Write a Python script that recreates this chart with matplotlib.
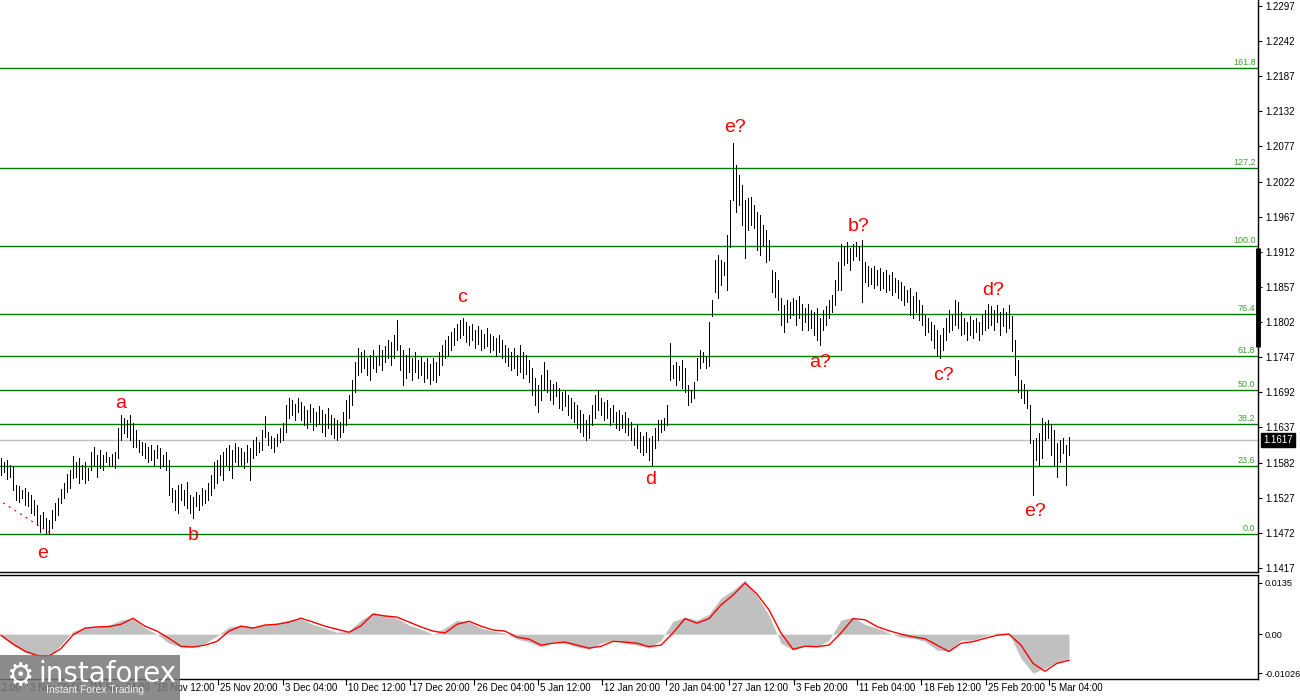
import numpy as np
import matplotlib.pyplot as plt
from matplotlib.transforms import blended_transform_factory
from matplotlib.patches import Rectangle

# --- datos (barras H4, maximos y minimos) ---
HIGHS = [
    1.1589, 1.1583, 1.1586, 1.1578, 1.1577, 1.1547, 1.1545, 1.1539, 1.1542, 1.1536,
    1.1531, 1.1523, 1.1516, 1.1500, 1.1505, 1.1495, 1.1492, 1.1508, 1.1519, 1.1527,
    1.1541, 1.1550, 1.1564, 1.1570, 1.1592, 1.1583, 1.1589, 1.1578, 1.1583, 1.1573,
    1.1599, 1.1606, 1.1594, 1.1602, 1.1594, 1.1599, 1.1591, 1.1596, 1.1599, 1.1636,
    1.1656, 1.1652, 1.1649, 1.1656, 1.1644, 1.1633, 1.1617, 1.1614, 1.1613, 1.1606,
    1.1609, 1.1602, 1.1609, 1.1605, 1.1594, 1.1599, 1.1586, 1.1542, 1.1539, 1.1547,
    1.1548, 1.1539, 1.1551, 1.1531, 1.1528, 1.1536, 1.1531, 1.1542, 1.1539, 1.1550,
    1.1562, 1.1583, 1.1586, 1.1594, 1.1599, 1.1605, 1.1609, 1.1602, 1.1613, 1.1606,
    1.1605, 1.1599, 1.1609, 1.1605, 1.1617, 1.1622, 1.1614, 1.1633, 1.1655, 1.1630,
    1.1623, 1.1620, 1.1627, 1.1636, 1.1644, 1.1672, 1.1683, 1.1680, 1.1674, 1.1683,
    1.1677, 1.1671, 1.1664, 1.1674, 1.1667, 1.1661, 1.1671, 1.1664, 1.1658, 1.1667,
    1.1656, 1.1652, 1.1649, 1.1645, 1.1661, 1.1680, 1.1688, 1.1711, 1.1739, 1.1761,
    1.1755, 1.1758, 1.1745, 1.1750, 1.1758, 1.1748, 1.1766, 1.1758, 1.1764, 1.1774,
    1.1771, 1.1782, 1.1805, 1.1766, 1.1758, 1.1750, 1.1761, 1.1745, 1.1755, 1.1743,
    1.1748, 1.1739, 1.1745, 1.1736, 1.1745, 1.1739, 1.1755, 1.1766, 1.1774, 1.1780,
    1.1786, 1.1793, 1.1799, 1.1805, 1.1808, 1.1802, 1.1796, 1.1799, 1.1790, 1.1796,
    1.1790, 1.1783, 1.1793, 1.1783, 1.1780, 1.1777, 1.1782, 1.1774, 1.1766, 1.1761,
    1.1755, 1.1761, 1.1750, 1.1766, 1.1755, 1.1750, 1.1743, 1.1730, 1.1714, 1.1703,
    1.1719, 1.1739, 1.1727, 1.1711, 1.1705, 1.1708, 1.1699, 1.1692, 1.1696, 1.1688,
    1.1683, 1.1677, 1.1672, 1.1664, 1.1658, 1.1649, 1.1656, 1.1672, 1.1688, 1.1696,
    1.1683, 1.1677, 1.1680, 1.1667, 1.1672, 1.1661, 1.1664, 1.1656, 1.1661, 1.1652,
    1.1645, 1.1636, 1.1641, 1.1630, 1.1624, 1.1630, 1.1620, 1.1624, 1.1636, 1.1649,
    1.1649, 1.1652, 1.1672, 1.1769, 1.1735, 1.1740, 1.1733, 1.1743, 1.1730, 1.1703,
    1.1696, 1.1708, 1.1745, 1.1758, 1.1755, 1.1749, 1.1802, 1.1837, 1.1899, 1.1907,
    1.1899, 1.1896, 1.1938, 1.1993, 1.2082, 1.2048, 1.2032, 1.2017, 1.1993, 1.1996,
    1.1998, 1.1985, 1.1974, 1.1970, 1.1954, 1.1946, 1.1931, 1.1884, 1.1880, 1.1868,
    1.1839, 1.1829, 1.1837, 1.1833, 1.1840, 1.1837, 1.1843, 1.1830, 1.1824, 1.1830,
    1.1821, 1.1818, 1.1824, 1.1808, 1.1821, 1.1827, 1.1837, 1.1844, 1.1868, 1.1896,
    1.1924, 1.1921, 1.1927, 1.1918, 1.1924, 1.1927, 1.1921, 1.1931, 1.1896, 1.1890,
    1.1887, 1.1890, 1.1884, 1.1887, 1.1880, 1.1884, 1.1876, 1.1880, 1.1871, 1.1868,
    1.1865, 1.1858, 1.1852, 1.1855, 1.1843, 1.1849, 1.1837, 1.1829, 1.1813, 1.1808,
    1.1802, 1.1797, 1.1790, 1.1782, 1.1793, 1.1808, 1.1821, 1.1813, 1.1837, 1.1833,
    1.1818, 1.1808, 1.1802, 1.1811, 1.1805, 1.1808, 1.1802, 1.1813, 1.1821, 1.1830,
    1.1827, 1.1821, 1.1829, 1.1818, 1.1824, 1.1818, 1.1829, 1.1811, 1.1774, 1.1743,
    1.1711, 1.1705, 1.1696, 1.1672, 1.1617, 1.1620, 1.1628, 1.1652, 1.1645, 1.1649,
    1.1642, 1.1633, 1.1613, 1.1617, 1.1620, 1.1609, 1.1622,
]
LOWS = [
    1.1562, 1.1567, 1.1556, 1.1559, 1.1539, 1.1523, 1.1520, 1.1527, 1.1516, 1.1514,
    1.1503, 1.1500, 1.1484, 1.1473, 1.1479, 1.1471, 1.1470, 1.1479, 1.1492, 1.1500,
    1.1519, 1.1527, 1.1536, 1.1542, 1.1558, 1.1559, 1.1550, 1.1556, 1.1550, 1.1555,
    1.1570, 1.1578, 1.1559, 1.1573, 1.1570, 1.1583, 1.1578, 1.1577, 1.1573, 1.1589,
    1.1617, 1.1628, 1.1622, 1.1617, 1.1606, 1.1606, 1.1599, 1.1594, 1.1589, 1.1583,
    1.1586, 1.1578, 1.1589, 1.1573, 1.1577, 1.1570, 1.1531, 1.1520, 1.1508, 1.1503,
    1.1523, 1.1516, 1.1511, 1.1503, 1.1495, 1.1514, 1.1508, 1.1516, 1.1519, 1.1523,
    1.1531, 1.1542, 1.1550, 1.1562, 1.1555, 1.1578, 1.1570, 1.1558, 1.1583, 1.1577,
    1.1578, 1.1573, 1.1583, 1.1555, 1.1589, 1.1594, 1.1599, 1.1602, 1.1622, 1.1609,
    1.1605, 1.1599, 1.1608, 1.1614, 1.1617, 1.1630, 1.1652, 1.1656, 1.1649, 1.1661,
    1.1649, 1.1641, 1.1636, 1.1645, 1.1633, 1.1639, 1.1642, 1.1630, 1.1623, 1.1636,
    1.1627, 1.1620, 1.1617, 1.1622, 1.1630, 1.1641, 1.1652, 1.1672, 1.1692, 1.1719,
    1.1724, 1.1730, 1.1719, 1.1711, 1.1730, 1.1724, 1.1735, 1.1727, 1.1739, 1.1745,
    1.1735, 1.1745, 1.1758, 1.1727, 1.1703, 1.1714, 1.1724, 1.1711, 1.1724, 1.1714,
    1.1719, 1.1708, 1.1714, 1.1705, 1.1711, 1.1708, 1.1719, 1.1735, 1.1745, 1.1750,
    1.1758, 1.1766, 1.1774, 1.1777, 1.1782, 1.1771, 1.1766, 1.1774, 1.1761, 1.1768,
    1.1758, 1.1761, 1.1764, 1.1755, 1.1758, 1.1749, 1.1755, 1.1745, 1.1739, 1.1733,
    1.1727, 1.1730, 1.1719, 1.1724, 1.1714, 1.1721, 1.1708, 1.1688, 1.1672, 1.1661,
    1.1680, 1.1696, 1.1692, 1.1680, 1.1674, 1.1686, 1.1667, 1.1664, 1.1670, 1.1656,
    1.1652, 1.1645, 1.1636, 1.1630, 1.1623, 1.1617, 1.1620, 1.1641, 1.1652, 1.1664,
    1.1656, 1.1649, 1.1652, 1.1641, 1.1645, 1.1636, 1.1633, 1.1636, 1.1630, 1.1625,
    1.1617, 1.1609, 1.1605, 1.1599, 1.1594, 1.1599, 1.1586, 1.1578, 1.1605, 1.1617,
    1.1630, 1.1633, 1.1641, 1.1711, 1.1714, 1.1703, 1.1711, 1.1699, 1.1692, 1.1672,
    1.1677, 1.1683, 1.1711, 1.1730, 1.1739, 1.1730, 1.1733, 1.1811, 1.1849, 1.1840,
    1.1860, 1.1876, 1.1852, 1.1920, 1.1993, 1.1975, 1.1985, 1.1954, 1.1902, 1.1946,
    1.1954, 1.1949, 1.1915, 1.1907, 1.1923, 1.1896, 1.1899, 1.1849, 1.1841, 1.1821,
    1.1797, 1.1786, 1.1802, 1.1808, 1.1813, 1.1797, 1.1808, 1.1790, 1.1802, 1.1790,
    1.1793, 1.1782, 1.1774, 1.1766, 1.1790, 1.1797, 1.1808, 1.1818, 1.1829, 1.1852,
    1.1852, 1.1891, 1.1894, 1.1884, 1.1899, 1.1905, 1.1899, 1.1834, 1.1865, 1.1858,
    1.1862, 1.1855, 1.1860, 1.1852, 1.1855, 1.1849, 1.1852, 1.1844, 1.1849, 1.1840,
    1.1837, 1.1829, 1.1833, 1.1813, 1.1808, 1.1818, 1.1805, 1.1797, 1.1782, 1.1786,
    1.1774, 1.1761, 1.1750, 1.1745, 1.1758, 1.1774, 1.1786, 1.1790, 1.1797, 1.1793,
    1.1782, 1.1783, 1.1774, 1.1782, 1.1777, 1.1786, 1.1774, 1.1783, 1.1790, 1.1793,
    1.1797, 1.1790, 1.1802, 1.1782, 1.1796, 1.1786, 1.1793, 1.1757, 1.1719, 1.1692,
    1.1683, 1.1675, 1.1667, 1.1613, 1.1531, 1.1586, 1.1578, 1.1589, 1.1617, 1.1620,
    1.1594, 1.1578, 1.1559, 1.1583, 1.1597, 1.1547, 1.1594,
]
LAST_PRICE = 1.1617

# niveles de Fibonacci
FIB_LOW = 1.1470
FIB_HIGH = 1.1921
FIB_RATIOS = [1.618, 1.272, 1.0, 0.764, 0.618, 0.5, 0.382, 0.236, 0.0]
FIB_LABELS = ['161.8', '127,2', '100.0', '76.4', '61.8', '50.0', '38.2', '23.6', '0.0']

# etiquetas de ondas
WAVE_TEXT = ['e', 'a', 'b', 'c', 'd', 'e?', 'a?', 'b?', 'c?', 'd?', 'e?']
WAVE_BAR = [13.7, 40, 64, 153.7, 216.7, 244.7, 273, 286, 314, 330.7, 344.7]
WAVE_PRICE = [1.1440, 1.1674, 1.1467, 1.1840, 1.1555, 1.2106, 1.1738, 1.1951,
              1.1719, 1.1852, 1.1505]

# linea de tendencia punteada (roja)
TREND_BARS = [0.7, 16.3]
TREND_PRICES = [1.1519, 1.1472]

# marca gruesa sobre el eje de precios
AXIS_MARK = [1.1918, 1.1763]

# MACD: un valor cada 4 barras
MACD_STEP = 4
MACD_MAIN = [
    -0.0005, -0.0029, -0.0048, -0.0058, -0.0058, -0.0029, 0.0008, 0.0016, 0.0021, 0.0024,
    0.0037, 0.0042, 0.0016, 0.0000, -0.0024, -0.0034, -0.0034, -0.0024, -0.0005, 0.0019,
    0.0024, 0.0019, 0.0026, 0.0029, 0.0037, 0.0040, 0.0026, 0.0016, 0.0005, 0.0008,
    0.0037, 0.0056, 0.0050, 0.0042, 0.0024, 0.0013, 0.0000, 0.0016, 0.0037, 0.0032,
    0.0016, 0.0008, 0.0003, -0.0013, -0.0021, -0.0034, -0.0021, -0.0024, -0.0034, -0.0040,
    -0.0024, -0.0016, -0.0024, -0.0029, -0.0037, -0.0016, 0.0034, 0.0045, 0.0037, 0.0053,
    0.0095, 0.0116, 0.0143, 0.0101, 0.0050, -0.0024, -0.0042, -0.0032, -0.0034, -0.0016,
    0.0037, 0.0045, 0.0026, 0.0016, 0.0003, -0.0008, -0.0011, -0.0019, -0.0042, -0.0045,
    -0.0016, -0.0016, -0.0005, 0.0003, 0.0003, -0.0064, -0.0103, -0.0090, -0.0074, -0.0064,
]
MACD_SIGNAL = [
    -0.0003, -0.0026, -0.0045, -0.0056, -0.0058, -0.0038, -0.0002, 0.0016, 0.0019, 0.0020,
    0.0026, 0.0042, 0.0021, 0.0008, -0.0011, -0.0032, -0.0034, -0.0029, -0.0019, 0.0008,
    0.0021, 0.0016, 0.0024, 0.0026, 0.0032, 0.0042, 0.0032, 0.0021, 0.0013, 0.0005,
    0.0022, 0.0053, 0.0048, 0.0045, 0.0032, 0.0019, 0.0008, 0.0003, 0.0026, 0.0034,
    0.0021, 0.0011, 0.0008, -0.0008, -0.0013, -0.0029, -0.0024, -0.0021, -0.0029, -0.0037,
    -0.0032, -0.0019, -0.0021, -0.0024, -0.0033, -0.0029, 0.0003, 0.0041, 0.0029, 0.0041,
    0.0077, 0.0103, 0.0135, 0.0106, 0.0064, 0.0003, -0.0040, -0.0032, -0.0033, -0.0029,
    0.0003, 0.0041, 0.0038, 0.0020, 0.0009, 0.0000, -0.0007, -0.0012, -0.0029, -0.0046,
    -0.0024, -0.0020, -0.0011, -0.0003, 0.0000, -0.0029, -0.0077, -0.0098, -0.0077, -0.0069,
]

PRICE_TICKS = [1.2297, 1.2242, 1.2187, 1.2132, 1.2077, 1.2022, 1.1967, 1.1912, 1.1857,
               1.1802, 1.1747, 1.1692, 1.1637, 1.1582, 1.1527, 1.1472, 1.1417]
MACD_TICKS = [0.0135, 0.0, -0.01026]
MACD_TICK_LABELS = ['0.0135', '0.00', '-0.01026']

DATE_POS = [-12.7, 8.7, 30, 51.3, 72.3, 94, 115, 136.3, 157.7, 179, 200.3, 221.7,
            242.7, 264.3, 285.3, 306.7, 328.3, 349.3]
DATE_LABELS = ['27 Oct 12:00', '3 Nov 20:00', '11 Nov 04:00', '18 Nov 12:00',
               '25 Nov 20:00', '3 Dec 04:00', '10 Dec 12:00', '17 Dec 20:00',
               '26 Dec 04:00', '5 Jan 12:00', '12 Jan 20:00', '20 Jan 04:00',
               '27 Jan 12:00', '3 Feb 20:00', '11 Feb 04:00', '18 Feb 12:00',
               '25 Feb 20:00', '5 Mar 04:00']

W, H = 1300, 700
plt.rcParams['font.family'] = ['Liberation Sans', 'DejaVu Sans']
fig = plt.figure(figsize=(W / 100, H / 100), dpi=100)
fig.patch.set_facecolor('white')

ax = fig.add_axes([0, 1 - 572 / H, 1258 / W, 572 / H])
ax2 = fig.add_axes([0, 1 - 679 / H, 1258 / W, 104 / H])

xmax = 1257 / 3
for a in (ax, ax2):
    a.set_xlim(-1 / 3, xmax)
    a.spines['left'].set_visible(False)
    for s in ('right', 'bottom', 'top'):
        a.spines[s].set_color('black')
        a.spines[s].set_linewidth(1)
    a.yaxis.tick_right()
    a.tick_params(axis='y', direction='out', length=3, width=0.8, pad=2,
                  labelsize=7, colors='black')
ax.spines['top'].set_visible(False)
ax.set_ylim(1.14106, 1.23064)
ax2.set_ylim(-0.01184, 0.01561)
# etiquetas del MACD un poco mas chicas para que entren
ax2.tick_params(axis='y', labelsize=6.6, pad=1.5)

# --- panel de precios ---
trans = blended_transform_factory(ax.transAxes, ax.transData)
for r, lab in zip(FIB_RATIOS, FIB_LABELS):
    nivel = FIB_LOW + r * (FIB_HIGH - FIB_LOW)
    ax.axhline(nivel, color='#007a00', lw=1, zorder=1)
    ax.text(0.998, nivel + 0.0001, lab, transform=trans, ha='right', va='bottom',
            color='#3f9e2f', fontsize=6.5)

ax.axhline(LAST_PRICE, color='#c0c0c0', lw=1, zorder=0.5)

x = np.arange(len(HIGHS))
ax.vlines(x, LOWS, HIGHS, colors='black', lw=0.72, antialiased=False, zorder=2)

ax.plot(TREND_BARS, TREND_PRICES, color='red', lw=0.8, linestyle=(0, (2, 4)), zorder=2)

for t, b, p in zip(WAVE_TEXT, WAVE_BAR, WAVE_PRICE):
    ax.text(b, p, t, color='red', fontsize=14, ha='center', va='center', zorder=3)

ax.set_xticks([])
ax.set_yticks(PRICE_TICKS)
ax.set_yticklabels(['%.4f' % v for v in PRICE_TICKS])

ax.plot([1.0, 1.0], AXIS_MARK, transform=trans, color='black', lw=3.5,
        solid_capstyle='butt', clip_on=False)
ax.text(1.004, LAST_PRICE, '%.4f' % LAST_PRICE, transform=trans, ha='left',
        va='center', color='white', fontsize=7,
        bbox=dict(facecolor='black', edgecolor='black', pad=1.6))

# --- panel MACD ---
xm = np.arange(len(MACD_MAIN)) * MACD_STEP
ax2.fill_between(xm, 0, MACD_MAIN, color='#c0c0c0', lw=0)
ax2.plot(xm, MACD_SIGNAL, color='red', lw=1)
ax2.set_yticks(MACD_TICKS)
ax2.set_yticklabels(MACD_TICK_LABELS)

visibles = [p for p in DATE_POS if p >= 0]
ax2.set_xticks(visibles)
ax2.tick_params(axis='x', direction='out', length=4, width=0.8, labelbottom=False)
trans2 = blended_transform_factory(ax2.transData, ax2.transAxes)
for p, lab in zip(DATE_POS, DATE_LABELS):
    ax2.text(p + 0.8, -0.09, lab, transform=trans2, ha='left', va='center',
             fontsize=7, color='black', clip_on=False)

# --- logo ---
fig.patches.append(Rectangle((0, 0), 180 / W, 45 / H, transform=fig.transFigure,
                             facecolor='#777777', edgecolor='none', alpha=0.85, zorder=10))
fig.text(20 / W, 1 - 677 / H, '\u2699', color='white', fontsize=22, family='DejaVu Sans',
         ha='center', va='center', zorder=11)
fig.text(38 / W, 1 - 674 / H, 'instaforex', color='white', fontsize=20, family='DejaVu Sans',
         ha='left', va='center', zorder=11)
fig.text(46 / W, 1 - 690 / H, 'Instant Forex Trading', color='#eeeeee', fontsize=7.5,
         ha='left', va='center', zorder=11)

fig.savefig('out.png', dpi=100)
